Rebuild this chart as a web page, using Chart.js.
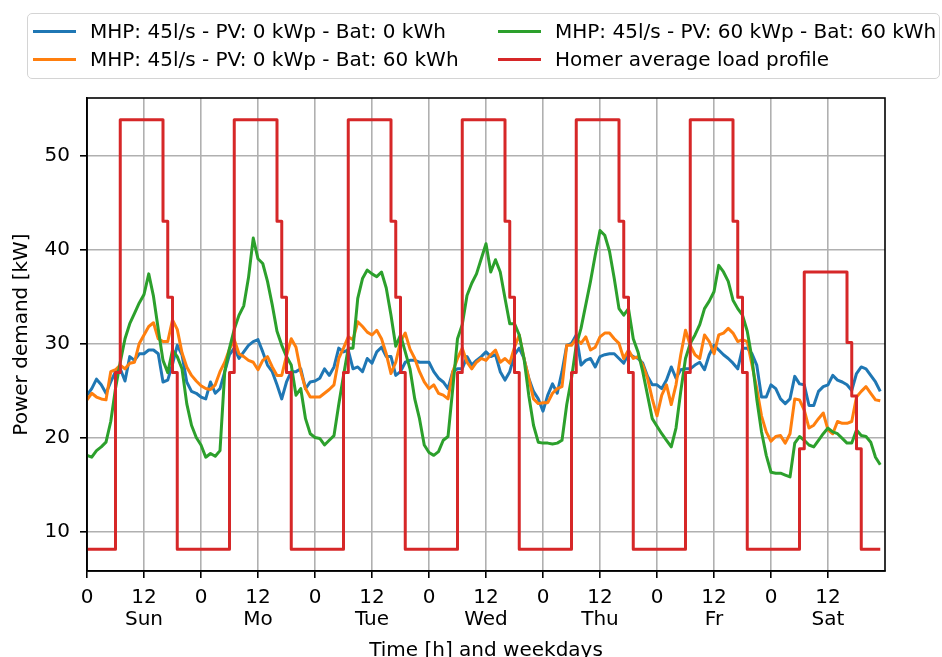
<!DOCTYPE html>
<html>
<head>
<meta charset="utf-8">
<title>Power demand</title>
<script src="https://cdn.jsdelivr.net/npm/chart.js@4.4.1/dist/chart.umd.min.js"></script>
<style>
    html, body { margin: 0; padding: 0; background: #ffffff; }
    #wrap { position: relative; width: 942px; height: 657px; overflow: hidden; }
    #grafico { position: absolute; left: 0; top: 0; }
    #legenda {
        position: absolute; left: 27px; top: 13px; width: 913px; height: 66px;
        box-sizing: border-box; border: 1.5px solid #d4d4d4; border-radius: 5px;
        background: rgba(255, 255, 255, 0.8);
        display: grid; grid-template-columns: 465px auto; grid-template-rows: 28px 28px;
        padding: 3px 0 0 5px;
        font: 20px "DejaVu Sans"; color: #000000;
    }
    .item { display: flex; align-items: center; white-space: nowrap; }
    .traco { width: 43px; height: 3px; margin-right: 14px; }
</style>
</head>
<body>
<div id="wrap">
    <canvas id="grafico" width="942" height="657"></canvas>
    <div id="legenda"></div>
</div>
<script>
// Dias da semana e eixos
const dias = ["Sun", "Mo", "Tue", "Wed", "Thu", "Fr", "Sat"];
const xTickValues = [0, 12, 24, 36, 48, 60, 72, 84, 96, 108, 120, 132, 144, 156];
const xTickLabels = ["0", ["12", "Sun"], "0", ["12", "Mo"], "0", ["12", "Tue"], "0", ["12", "Wed"],
                     "0", ["12", "Thu"], "0", ["12", "Fr"], "0", ["12", "Sat"]];
const yTickValues = [10, 20, 30, 40, 50];

// Horas da semana (uma medição por hora)
const horas = Array.from({ length: 168 }, (_, i) => i);

// MHP: 45l/s - PV: 0 kWp - Bat: 0 kWh
const mhpSemBateria = [
    24.5, 25.2, 26.2, 25.6, 24.7, 25.9, 27.0, 27.3, 26.0, 28.6, 28.2, 28.9, 28.9, 29.3, 29.3, 28.9, 25.9, 26.1, 27.8, 29.8, 28.8, 25.9, 24.9, 24.7,
    24.3, 24.1, 25.9, 24.7, 25.2, 27.0, 28.8, 29.5, 28.4, 29.1, 29.8, 30.2, 30.4, 29.1, 27.7, 27.0, 25.6, 24.1, 25.9, 27.0, 27.0, 27.3, 25.2, 25.9,
    26.0, 26.3, 27.3, 26.6, 27.5, 29.5, 29.1, 29.3, 27.3, 27.5, 27.0, 28.4, 27.9, 29.1, 29.6, 28.6, 28.6, 26.6, 27.0, 28.0, 28.2, 28.2, 28.0, 28.0,
    28.0, 27.0, 26.3, 25.9, 25.2, 27.0, 27.3, 27.3, 28.6, 27.7, 28.2, 28.6, 29.1, 28.6, 28.8, 27.0, 26.1, 27.0, 28.8, 29.5, 28.4, 26.3, 24.9, 24.1,
    22.8, 24.5, 25.7, 24.7, 27.0, 29.8, 30.0, 30.9, 27.7, 28.2, 28.4, 27.5, 28.6, 28.8, 28.9, 28.9, 28.4, 27.9, 28.9, 28.6, 28.4, 27.9, 26.5, 25.6,
    25.6, 25.2, 26.1, 27.5, 26.3, 27.2, 27.3, 27.3, 27.7, 28.0, 27.2, 28.8, 29.8, 29.3, 28.8, 28.4, 27.9, 27.3, 29.5, 29.5, 28.9, 27.7, 24.3, 24.3,
    25.6, 25.2, 24.1, 23.6, 24.1, 26.5, 25.7, 25.6, 23.4, 23.4, 24.9, 25.4, 25.6, 26.6, 26.1, 25.9, 25.6, 25.0, 26.8, 27.5, 27.3, 26.6, 25.9, 24.9
];

// MHP: 45l/s - PV: 0 kWp - Bat: 60 kWh
const mhpComBateria = [
    24.0, 24.7, 24.3, 24.1, 24.0, 27.0, 27.2, 27.7, 27.3, 27.9, 28.0, 30.0, 30.9, 31.8, 32.2, 30.5, 30.2, 30.2, 32.5, 31.5, 29.0, 27.5, 26.6, 26.0,
    25.5, 25.2, 25.1, 25.6, 27.0, 28.0, 29.4, 30.4, 28.9, 28.6, 28.2, 28.0, 27.2, 28.2, 28.6, 27.5, 26.6, 26.6, 28.7, 30.5, 29.6, 27.0, 25.2, 24.3,
    24.3, 24.3, 24.7, 25.1, 25.6, 28.4, 29.5, 30.7, 30.4, 32.3, 31.8, 31.2, 30.9, 31.4, 30.5, 28.9, 26.8, 28.0, 30.2, 31.1, 29.4, 28.4, 27.0, 25.9,
    25.2, 25.6, 24.7, 24.5, 24.1, 27.0, 28.4, 29.5, 28.0, 27.3, 28.0, 28.4, 28.2, 28.8, 29.3, 28.0, 28.4, 27.9, 29.6, 30.9, 28.4, 26.3, 24.1, 23.6,
    23.7, 23.7, 24.7, 25.2, 25.4, 29.8, 29.8, 30.5, 30.0, 30.7, 29.3, 29.6, 30.7, 31.1, 31.1, 30.5, 30.0, 28.4, 29.3, 28.4, 28.6, 27.7, 26.3, 24.1,
    22.3, 24.5, 25.6, 23.5, 25.6, 28.8, 31.4, 29.8, 28.8, 28.4, 30.9, 30.2, 28.9, 30.9, 31.1, 31.6, 31.1, 30.2, 30.4, 30.2, 27.7, 25.2, 22.3, 20.6,
    19.6, 20.1, 20.2, 19.4, 20.4, 24.1, 24.0, 22.9, 21.0, 21.3, 22.0, 22.6, 20.8, 20.4, 21.7, 21.5, 21.5, 21.7, 24.3, 24.9, 25.4, 24.7, 24.0, 23.9
];

// MHP: 45l/s - PV: 60 kWp - Bat: 60 kWh
const mhpPvBateria = [
    18.1, 17.9, 18.6, 19.0, 19.5, 21.7, 25.2, 28.0, 30.5, 32.1, 33.2, 34.3, 35.2, 37.4, 35.0, 31.5, 28.2, 26.9, 29.3, 28.6, 27.3, 23.6, 21.3, 20.0,
    19.2, 17.9, 18.3, 18.0, 18.6, 27.0, 29.5, 31.5, 33.0, 34.0, 37.0, 41.2, 39.0, 38.5, 36.6, 34.1, 31.3, 29.8, 28.6, 27.7, 24.5, 25.2, 22.0, 20.4,
    20.0, 19.9, 19.2, 19.7, 20.2, 23.5, 26.6, 29.5, 29.5, 34.8, 36.9, 37.8, 37.4, 37.1, 37.6, 35.9, 33.0, 29.7, 30.9, 29.1, 27.3, 24.1, 22.0, 19.2,
    18.4, 18.1, 18.5, 19.7, 20.1, 25.2, 30.5, 32.0, 35.1, 36.4, 37.4, 39.0, 40.6, 37.6, 38.9, 37.6, 34.8, 32.1, 32.1, 30.9, 28.4, 24.5, 21.3, 19.5,
    19.4, 19.4, 19.3, 19.4, 19.7, 23.5, 26.3, 29.8, 31.6, 34.1, 36.6, 39.4, 42.0, 41.5, 39.8, 36.9, 33.7, 33.0, 33.7, 30.5, 29.1, 27.0, 24.5, 22.0,
    21.2, 20.4, 19.7, 19.0, 21.0, 24.9, 28.4, 30.0, 30.9, 32.0, 33.7, 34.5, 35.5, 38.3, 37.6, 36.6, 34.6, 33.7, 33.0, 31.3, 28.4, 24.1, 20.6, 18.1,
    16.3, 16.2, 16.2, 16.0, 15.8, 19.4, 20.1, 19.7, 19.2, 19.0, 19.7, 20.4, 21.0, 20.6, 20.4, 19.9, 19.4, 19.4, 20.8, 20.2, 20.1, 19.5, 17.9, 17.1
];

// Perfil médio de carga do Homer (por hora do dia)
const cargaDiaUtil = [8.1, 8.1, 8.1, 8.1, 8.1, 8.1, 26.9, 53.8, 53.8, 53.8, 53.8, 53.8, 53.8, 53.8, 53.8, 53.8, 43.0, 34.9, 26.9, 8.1, 8.1, 8.1, 8.1, 8.1];
const cargaSabado = [8.1, 8.1, 8.1, 8.1, 8.1, 8.1, 18.8, 37.6, 37.6, 37.6, 37.6, 37.6, 37.6, 37.6, 37.6, 37.6, 30.1, 24.4, 18.8, 8.1, 8.1, 8.1, 8.1, 8.1];
const cargaHomer = dias.flatMap(d => d === "Sat" ? cargaSabado : cargaDiaUtil);

const fonte = '"DejaVu Sans"';
Chart.defaults.font.family = fonte;
Chart.defaults.font.size = 20;
Chart.defaults.color = "#000000";

function pontos(serie) {
    return serie.map((v, i) => ({ x: horas[i], y: v }));
}

const series = [
    { label: "MHP: 45l/s - PV: 0 kWp - Bat: 0 kWh", valores: mhpSemBateria, cor: "#1f77b4", ordem: 3 },
    { label: "MHP: 45l/s - PV: 0 kWp - Bat: 60 kWh", valores: mhpComBateria, cor: "#ff7f0e", ordem: 2 },
    { label: "MHP: 45l/s - PV: 60 kWp - Bat: 60 kWh", valores: mhpPvBateria, cor: "#2ca02c", ordem: 1 },
    { label: "Homer average load profile", valores: cargaHomer, cor: "#d62728", ordem: 0, degrau: true }
];

// Moldura do gráfico (quatro lados, como no matplotlib)
const moldura = {
    id: "moldura",
    afterDatasetsDraw(chart) {
        const { ctx, chartArea: a } = chart;
        ctx.save();
        ctx.strokeStyle = "#000000";
        ctx.lineWidth = 1.6;
        ctx.strokeRect(a.left, a.top, a.right - a.left, a.bottom - a.top);
        ctx.restore();
    }
};

const grafico = new Chart(document.getElementById("grafico"), {
    type: "line",
    data: {
        datasets: series.map(s => ({
            label: s.label,
            data: pontos(s.valores),
            borderColor: s.cor,
            backgroundColor: s.cor,
            borderWidth: 3,
            pointRadius: 0,
            tension: 0,
            stepped: s.degrau ? true : false,
            borderJoinStyle: "round",
            fill: false,
            order: s.ordem
        }))
    },
    options: {
        responsive: false,
        animation: false,
        devicePixelRatio: 1,
        layout: { padding: { top: 98, right: 57, left: 0, bottom: 0 } },
        plugins: {
            legend: { display: false },
            tooltip: { enabled: false }
        },
        scales: {
            x: {
                type: "linear",
                min: 0,
                max: 168,
                afterBuildTicks: s => { s.ticks = xTickValues.map(v => ({ value: v })); },
                afterFit: s => { s.height = 86; },
                grid: { color: "#b0b0b0", lineWidth: 1.6, tickColor: "#000000", tickLength: 7, tickWidth: 1.6 },
                border: { display: true, color: "#000000", width: 1.6 },
                ticks: {
                    autoSkip: false,
                    maxRotation: 0,
                    padding: 9,
                    font: { size: 20, lineHeight: 1.1 },
                    callback: v => xTickLabels[xTickValues.indexOf(v)]
                },
                title: {
                    display: true,
                    text: "Time [h] and weekdays",
                    font: { size: 20, lineHeight: 0.65 },
                    padding: { top: 0, bottom: 0 }
                }
            },
            y: {
                min: 5.8,
                max: 56.1,
                afterBuildTicks: s => { s.ticks = yTickValues.map(v => ({ value: v })); },
                afterFit: s => { s.width = 87; },
                grid: { color: "#b0b0b0", lineWidth: 1.6, tickColor: "#000000", tickLength: 7, tickWidth: 1.6 },
                border: { display: true, color: "#000000", width: 1.6 },
                ticks: { padding: 10, font: { size: 20 } },
                title: {
                    display: true,
                    text: "Power demand [kW]",
                    font: { size: 20, lineHeight: 1.2 },
                    padding: { top: 10, bottom: 0 }
                }
            }
        }
    },
    plugins: [moldura]
});

// Legenda em duas colunas (preenchida por coluna, como no matplotlib)
function montarLegenda(chart) {
    const caixa = document.getElementById("legenda");
    caixa.innerHTML = chart.data.datasets.map((ds, i) => {
        const coluna = Math.floor(i / 2) + 1;
        const linha = (i % 2) + 1;
        return `<div class="item" style="grid-column:${coluna};grid-row:${linha}">
            <span class="traco" style="background:${ds.borderColor}"></span><span>${ds.label}</span></div>`;
    }).join("");
}
montarLegenda(grafico);
</script>
</body>
</html>
